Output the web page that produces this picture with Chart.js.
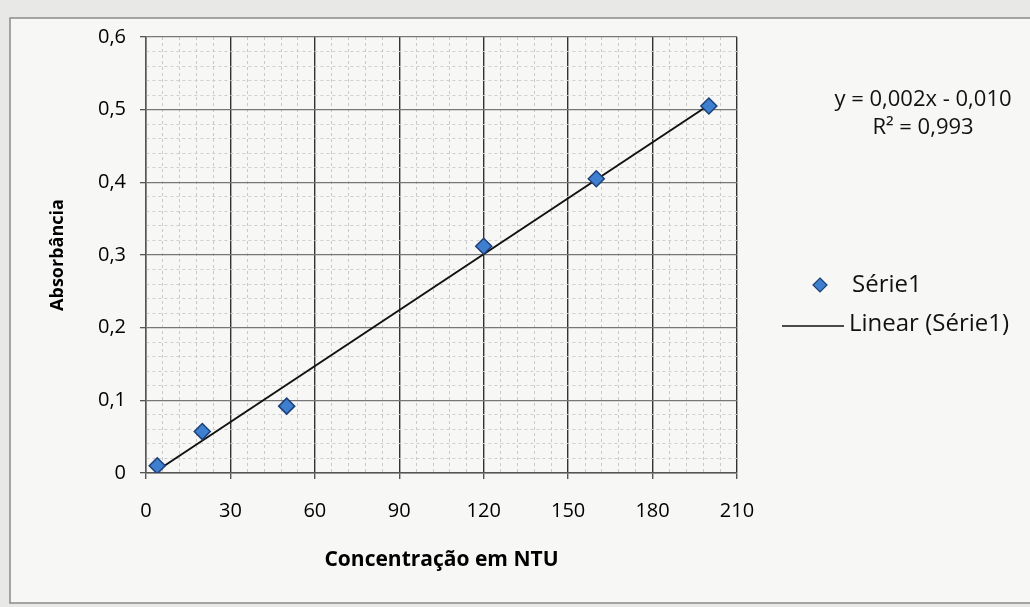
<!DOCTYPE html>
<html>
<head>
<meta charset="utf-8">
<script src="https://cdn.jsdelivr.net/npm/chart.js@4.4.1/dist/chart.umd.min.js"></script>
<style>
  html, body { margin: 0; padding: 0; background: #e8e8e6; }
  #wrap { width: 1030px; height: 607px; }
</style>
</head>
<body>
<div id="wrap"><canvas id="calib"></canvas></div>
<script>
// concentrations (NTU) and absorbance
const concentration = [4, 20, 50, 120, 160, 200];
const absorbance = [0.010, 0.057, 0.092, 0.312, 0.405, 0.505];
const seriesName = 'Série1';
const trendName = 'Linear (Série1)';
const equationText = 'y = 0,002x - 0,010';
const r2Text = 'R² = 0,993';
const xMajor = 30, xMinor = 6, xMax = 210;
const yMajor = 0.1, yMinor = 0.02, yMax = 0.6;

// least squares trendline, like Excel's "Linear" trend
function fitLine(xs, ys) {
    const n = xs.length;
    const mx = xs.reduce((a, b) => a + b, 0) / n;
    const my = ys.reduce((a, b) => a + b, 0) / n;
    let sxy = 0, sxx = 0;
    xs.forEach((x, i) => { sxy += (x - mx) * (ys[i] - my); sxx += (x - mx) ** 2; });
    const slope = sxy / sxx;
    return { slope, icpt: my - slope * mx };
}
const fit = fitLine(concentration, absorbance);
const xFirst = concentration[0], xLast = concentration[concentration.length - 1];
const trend = [
    { x: xFirst, y: fit.slope * xFirst + fit.icpt },
    { x: xLast, y: fit.slope * xLast + fit.icpt },
];

const FONT = "'Open Sans', 'Noto Sans', sans-serif";
const isMajor = (v, step) => Math.abs(v / step - Math.round(v / step)) < 1e-6;
const fmt = v => Math.abs(v) < 1e-9 ? '0' : v.toFixed(1).replace('.', ',');

const frame = {
    id: 'frame',
    beforeDraw(chart) {
        const { ctx } = chart;
        ctx.save();
        ctx.fillStyle = '#f7f7f5';
        ctx.fillRect(10, 18, 1030, 585);
        ctx.strokeStyle = '#8a8a8a';
        ctx.lineWidth = 1.5;
        ctx.strokeRect(10, 18, 1040, 585);
        ctx.restore();
    },
    afterDraw(chart) {
        const { ctx } = chart;
        ctx.save();
        ctx.fillStyle = '#111';
        ctx.font = '22px ' + FONT;
        ctx.textAlign = 'center';
        ctx.textBaseline = 'middle';
        ctx.fillText(equationText, 923, 100);
        ctx.fillText(r2Text, 923, 128);

        // legend
        ctx.textAlign = 'left';
        ctx.font = '24px ' + FONT;
        const ds = chart.data.datasets[0];
        ctx.beginPath();
        ctx.moveTo(820, 278); ctx.lineTo(827, 285); ctx.lineTo(820, 292); ctx.lineTo(813, 285);
        ctx.closePath();
        ctx.fillStyle = ds.backgroundColor;
        ctx.fill();
        ctx.strokeStyle = ds.borderColor;
        ctx.lineWidth = 1.2;
        ctx.stroke();
        ctx.fillStyle = '#111';
        ctx.fillText(seriesName, 852, 285);

        ctx.beginPath();
        ctx.moveTo(782, 326); ctx.lineTo(844, 326);
        ctx.strokeStyle = '#111';
        ctx.lineWidth = 1.6;
        ctx.stroke();
        ctx.fillText(trendName, 849, 324);
        ctx.restore();
    }
};

new Chart(document.getElementById('calib'), {
    type: 'scatter',
    data: {
        datasets: [{
            label: seriesName,
            data: concentration.map((x, i) => ({ x, y: absorbance[i] })),
            pointStyle: 'rectRot',
            pointRadius: 8,
            backgroundColor: '#3f7fcf',
            borderColor: '#1d3f78',
            borderWidth: 1.5,
            order: 0,
        }, {
            label: trendName,
            type: 'line',
            data: trend,
            borderColor: '#111',
            borderWidth: 2,
            pointRadius: 0,
            fill: false,
            order: 1,
        }],
    },
    options: {
        responsive: true,
        maintainAspectRatio: false,
        animation: false,
        layout: { padding: { left: 43, right: 293, top: 37, bottom: 30 } },
        plugins: {
            legend: { display: false },
            tooltip: { enabled: false },
        },
        scales: {
            x: {
                type: 'linear',
                min: 0,
                max: xMax,
                afterFit: s => { s.height = 104; },
                ticks: {
                    stepSize: xMinor,
                    autoSkip: false,
                    maxRotation: 0,
                    padding: 20,
                    color: '#000',
                    font: { family: FONT, size: 20 },
                    callback: v => isMajor(v, xMajor) ? String(v) : '',
                },
                grid: {
                    color: c => isMajor(c.tick.value, xMajor) ? '#333' : '#c9c9c9',
                    lineWidth: c => isMajor(c.tick.value, xMajor) ? 1.4 : 1,
                    tickLength: 6,
                    tickColor: c => isMajor(c.tick.value, xMajor) ? '#555' : 'rgba(0,0,0,0)',
                },
                border: {
                    color: '#555',
                    width: 1.4,
                    dash: c => isMajor(c.tick.value, xMajor) ? [] : [3, 3],
                },
                title: {
                    display: true,
                    text: 'Concentração em NTU',
                    color: '#000',
                    font: { family: FONT, size: 21, weight: 'bold' },
                },
            },
            y: {
                min: 0,
                max: yMax,
                afterFit: s => { s.width = 103; },
                ticks: {
                    stepSize: yMinor,
                    autoSkip: false,
                    padding: 14,
                    color: '#000',
                    font: { family: FONT, size: 20 },
                    callback: v => isMajor(v, yMajor) ? fmt(v) : '',
                },
                grid: {
                    color: c => isMajor(c.tick.value, yMajor) ? '#777' : '#cfcfcf',
                    lineWidth: c => isMajor(c.tick.value, yMajor) ? 1.3 : 1,
                    tickLength: 6,
                    tickColor: c => isMajor(c.tick.value, yMajor) ? '#555' : 'rgba(0,0,0,0)',
                },
                border: {
                    color: '#555',
                    width: 1.4,
                    dash: c => isMajor(c.tick.value, yMajor) ? [] : [3, 3],
                },
                title: {
                    display: true,
                    text: 'Absorbância',
                    color: '#000',
                    font: { family: FONT, size: 18, weight: 'bold' },
                },
            },
        },
    },
    plugins: [frame],
});
</script>
</body>
</html>
